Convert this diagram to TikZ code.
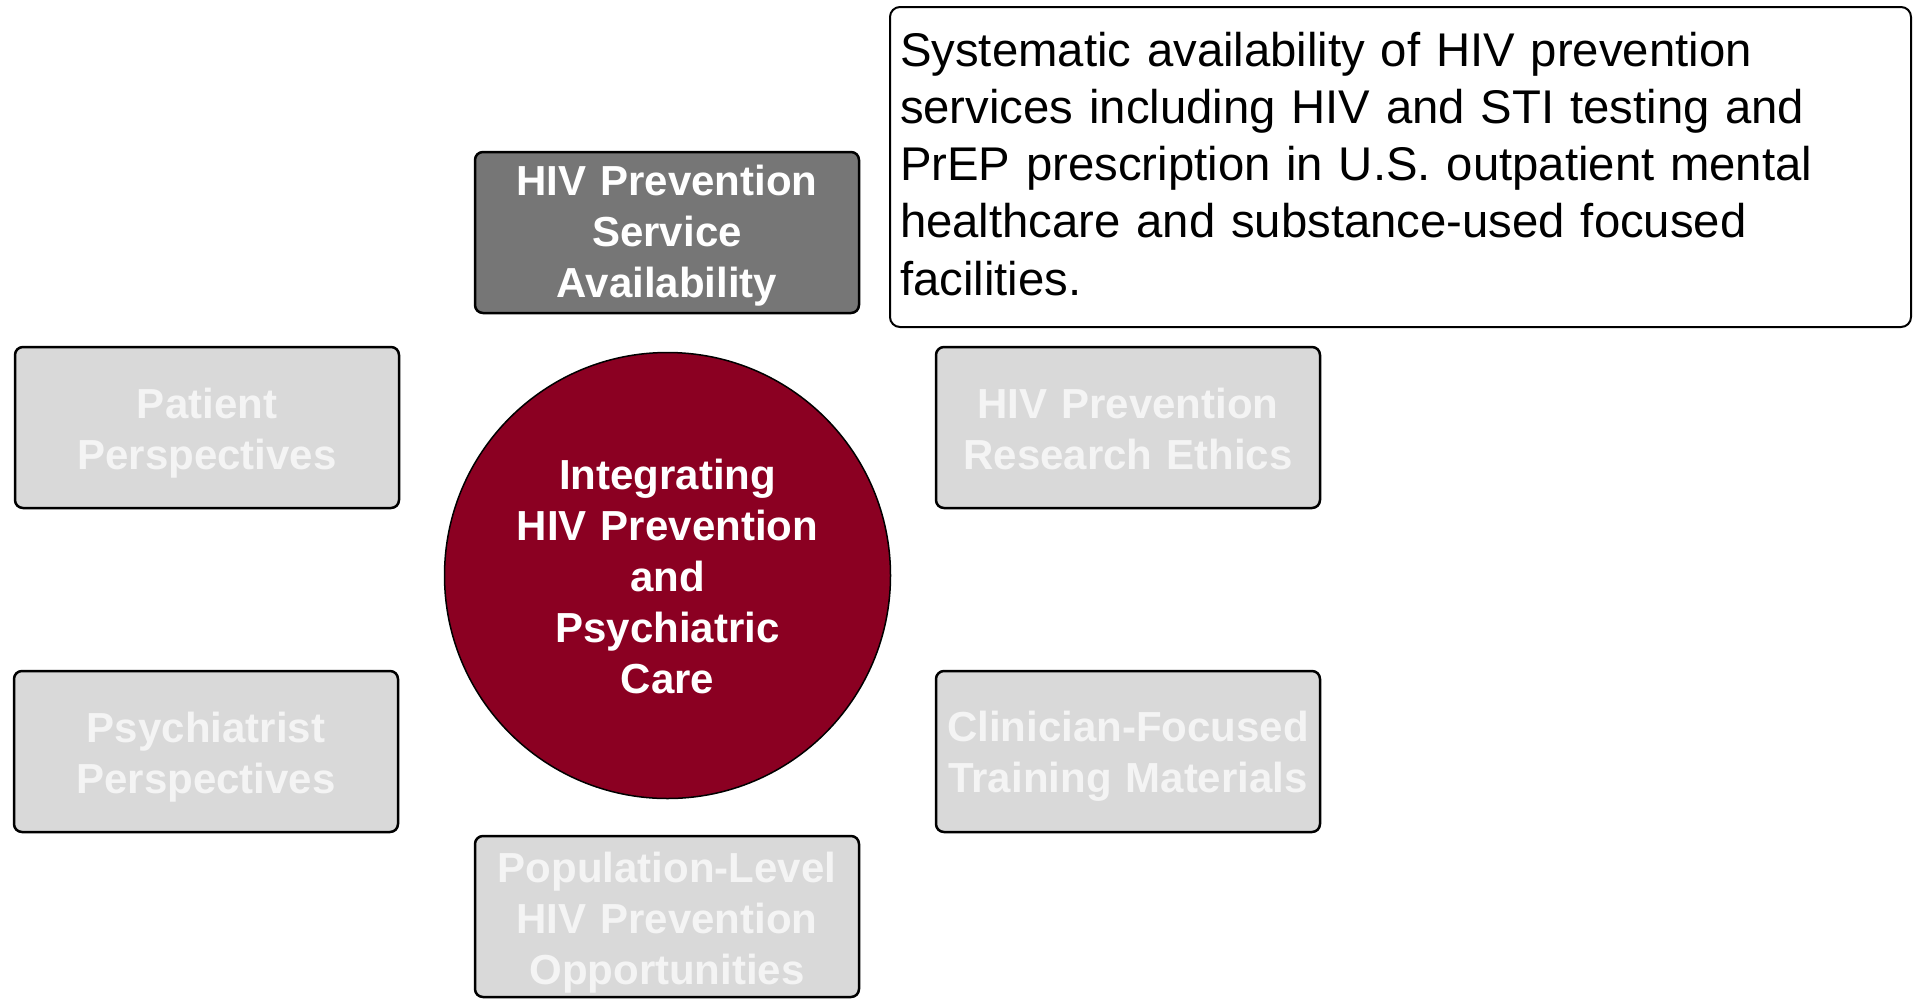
\documentclass[tikz,border=0pt]{standalone}
\usepackage{fontspec}
\setmainfont{Liberation Sans}
\definecolor{hubred}{RGB}{139,0,34}
\definecolor{dgray}{RGB}{118,118,118}
\definecolor{lgray}{RGB}{217,217,217}
\definecolor{ftext}{RGB}{244,244,244}
\begin{document}
\begin{tikzpicture}[x=1pt,y=-1pt,
  box/.style={draw=black, line width=2.5pt, rounded corners=8pt,
    minimum width=384pt, minimum height=161pt, inner sep=0pt,
    text width=384pt, align=center,
    font=\fontsize{42}{51}\selectfont\bfseries},
  faded/.style={box, fill=lgray, text=ftext},
  active/.style={box, fill=dgray, text=white},
  hub/.style={circle, draw=black, line width=1.5pt, fill=hubred, text=white,
    minimum size=446pt, inner sep=0pt, text width=320pt, align=center,
    font=\fontsize{42}{51}\selectfont\bfseries},
  desc/.style={draw=black, line width=2pt, rounded corners=10pt,
    minimum width=1021pt, minimum height=320pt, inner sep=0pt,
    text width=1001pt, align=left, font=\fontsize{47.3}{57.3}\selectfont}
]
\useasboundingbox (0,0) rectangle (1913,999);

\node[hub, text height=41pt, text depth=214pt] (hub) at (667.5,575.5)
  {Integrating\\HIV Prevention\\and\\Psychiatric\\Care};

\node[active, text height=33pt, text depth=107pt] (svc) at (667,232.5)
  {HIV Prevention\\Service\\Availability};

\node[desc, text height=50pt, text depth=252pt] (desc) at (1400.5,167)
  {Systematic availability of HIV prevention\\
   services including HIV and STI testing and\\
   PrEP prescription in U.S. outpatient mental\\
   healthcare and substance-used focused\\
   facilities.};

\node[faded, text height=60.5pt, text depth=79.5pt] (patient) at (207,427.5)
  {Patient\\Perspectives};
\node[faded, text height=61.2pt, text depth=78.8pt] (psych) at (206,751.5)
  {Psychiatrist\\Perspectives};
\node[faded, text height=60.5pt, text depth=79.5pt] (ethics) at (1128,427.5)
  {HIV Prevention\\Research Ethics};
\node[faded, text height=60.2pt, text depth=79.8pt] (clin) at (1128,751.5)
  {Clinician-Focused\\Training Materials};
\node[faded, text height=35.5pt, text depth=104.5pt] (pop) at (667,916.5)
  {Population-Level\\HIV Prevention\\Opportunities};
\end{tikzpicture}
\end{document}
